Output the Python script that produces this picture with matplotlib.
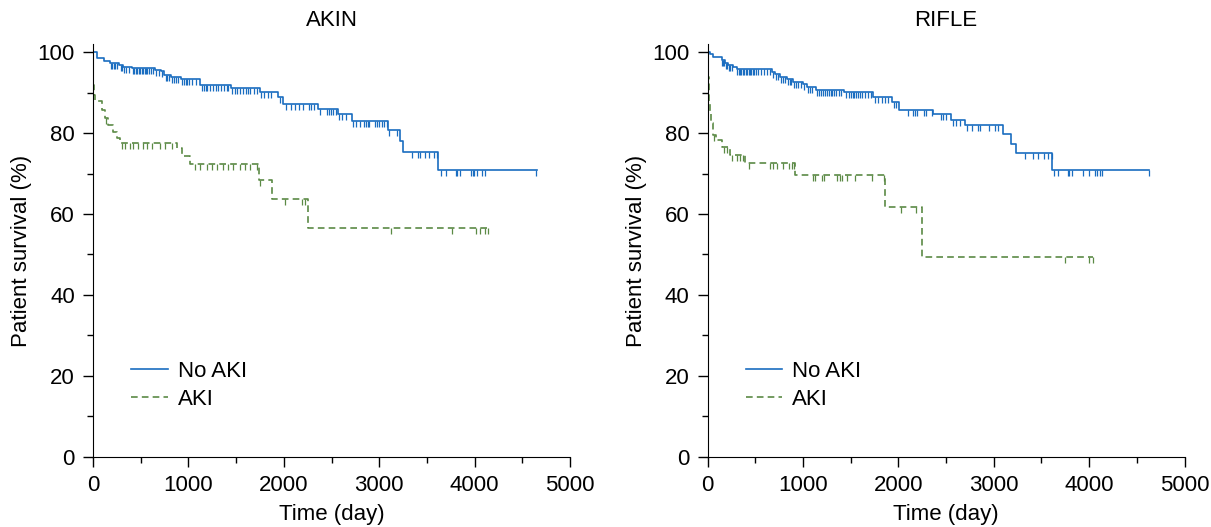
import numpy as np
import matplotlib
matplotlib.use("Agg")
import matplotlib.pyplot as plt
from matplotlib.ticker import MultipleLocator

plt.rcParams['font.family'] = ['Liberation Sans', 'DejaVu Sans']

blue = "#1a6dc0"
green = "#5b8a45"
fs = 16

# ---- AKIN panel ----
akin_noaki_t = [0, 45, 115, 178, 276, 318, 406, 650, 710, 744, 814, 919, 1122, 1443, 1750,
                1939, 1995, 2362, 2565, 2711, 3089, 3218, 3246, 3620]
akin_noaki_s = [100, 98.7, 97.9, 97.4, 96.9, 96.4, 96.0, 95.7, 95.4, 94.4, 93.9, 93.4, 91.9, 91.1, 90.3,
                89.0, 87.2, 86.0, 84.8, 82.9, 80.8, 78.0, 75.3, 70.8]
akin_noaki_end = 4651
akin_noaki_cens = [185, 200, 215, 232, 250, 290, 305, 330, 350, 375, 420, 435, 450, 465, 480, 495,
                   510, 525, 540, 555, 570, 590, 610, 630, 660, 690, 725, 760, 780, 800, 830, 850,
                   870, 890, 930, 950, 970, 990, 1010, 1040, 1080, 1140, 1160, 1180, 1200, 1230,
                   1260, 1290, 1310, 1340, 1370, 1400, 1420, 1460, 1490, 1510, 1540, 1570, 1600,
                   1620, 1650, 1690, 1720, 1760, 1790, 1830, 1870, 1960, 2020, 2080, 2120, 2160,
                   2200, 2260, 2290, 2320, 2380, 2456, 2477, 2495, 2519, 2547, 2579, 2613, 2649,
                   2722, 2757, 2799, 2844, 2858, 2879, 2896, 2956, 2973, 3001, 3026, 3050, 3078,
                   3106, 3183, 3341, 3410, 3428, 3480, 3526, 3578, 3602, 3645, 3697, 3802, 3819,
                   3847, 3962, 3980, 3997, 4021, 4074, 4112, 4644]

akin_aki_t = [0, 4, 12, 21, 91, 126, 161, 213, 248, 283, 877, 930, 1017, 1740, 1873, 2250]
akin_aki_s = [100, 92.0, 89.5, 88.0, 85.7, 83.7, 82.0, 80.4, 78.7, 77.5, 76.3, 74.4, 72.5, 68.4, 63.6, 56.5]
akin_aki_end = 4144
akin_aki_cens = [140, 300, 335, 388, 423, 475, 527, 563, 615, 702, 755, 825, 1069, 1122, 1192,
                 1244, 1297, 1366, 1419, 1471, 1541, 1593, 1646, 1716, 1750, 2013, 2187, 2222,
                 3120, 3760, 4011, 4057, 4109, 4144]

# ---- RIFLE panel ----
rifle_noaki_t = [0, 24, 59, 147, 182, 216, 269, 304, 672, 706, 759, 829, 899, 1004, 1039, 1136,
                 1430, 1738, 1930, 2011, 2367, 2550, 2700, 3102, 3183, 3235, 3616]
rifle_noaki_s = [100, 99.6, 98.8, 98.1, 97.4, 96.9, 96.3, 95.9, 95.2, 94.6, 93.8, 93.3, 92.7, 92.1,
                 91.5, 90.7, 90.3, 88.9, 87.8, 85.7, 84.7, 83.3, 82.0, 79.8, 77.2, 75.0, 70.9]
rifle_noaki_end = 4623
rifle_noaki_cens = [155, 165, 175, 190, 200, 225, 240, 255, 310, 325, 340, 355, 370, 385, 400,
                    415, 430, 445, 460, 475, 490, 510, 530, 560, 590, 620, 650, 690, 720, 740,
                    770, 790, 810, 840, 860, 880, 910, 930, 950, 980, 1015, 1050, 1070, 1100,
                    1150, 1170, 1190, 1210, 1230, 1250, 1270, 1290, 1310, 1330, 1350, 1380,
                    1400, 1450, 1480, 1500, 1520, 1540, 1560, 1580, 1600, 1620, 1650, 1680,
                    1710, 1760, 1790, 1830, 1860, 1890, 1950, 1980, 2105, 2158, 2175, 2193,
                    2270, 2291, 2351, 2445, 2473, 2501, 2571, 2606, 2648, 2718, 2770, 2840,
                    2858, 2955, 3015, 3050, 3330, 3410, 3463, 3529, 3574, 3609, 3634, 3679,
                    3777, 3794, 3819, 3935, 3994, 4064, 4088, 4117, 4134, 4623]

rifle_aki_t = [0, 3, 8, 14, 20, 28, 38, 55, 94, 147, 234, 391, 916, 1860, 2245]
rifle_aki_s = [100, 97, 94, 91, 88, 85, 82.5, 79.6, 78.4, 76.5, 74.6, 72.7, 69.6, 61.8, 49.5]
rifle_aki_end = 4040
rifle_aki_cens = [70, 171, 206, 252, 304, 339, 367, 437, 654, 682, 724, 793, 856, 881, 905,
                  1108, 1126, 1196, 1220, 1360, 1388, 1406, 1458, 1546, 1721, 1850, 2025, 2186,
                  3750, 4004, 4040]

panels = [
    ("AKIN", akin_noaki_t, akin_noaki_s, akin_noaki_end, akin_noaki_cens,
     akin_aki_t, akin_aki_s, akin_aki_end, akin_aki_cens),
    ("RIFLE", rifle_noaki_t, rifle_noaki_s, rifle_noaki_end, rifle_noaki_cens,
     rifle_aki_t, rifle_aki_s, rifle_aki_end, rifle_aki_cens),
]

tick_down = [(0, 0), (0, -1)]


def km_curve(ax, t, s, end, cens, color, ls, label):
    tt = np.append(t, end)
    ss = np.append(s, s[-1])
    ax.step(tt, ss, where='post', color=color, lw=1.2, ls=ls, label=label)
    idx = np.searchsorted(t, cens, side='right') - 1
    cy = np.array(s)[idx]
    ax.plot(cens, cy, ls='none', marker=tick_down, markersize=9,
            markeredgewidth=0.9, color=color)


fig = plt.figure(figsize=(12.11, 5.27), dpi=100)
lefts = [93 / 1211, 707.5 / 1211]
for (title, t1, s1, e1, c1, t2, s2, e2, c2), left in zip(panels, lefts):
    ax = fig.add_axes([left, 1 - 456.7 / 527, 477 / 1211, (456.7 - 44.2) / 527])
    km_curve(ax, t1, s1, e1, c1, blue, '-', 'No AKI')
    km_curve(ax, t2, s2, e2, c2, green, (0, (4, 2.5)), 'AKI')
    ax.set_xlim(0, 5000)
    ax.set_ylim(0, 102)
    ax.spines['top'].set_visible(False)
    ax.spines['right'].set_visible(False)
    ax.spines['left'].set_bounds(0, 102)
    ax.xaxis.set_major_locator(MultipleLocator(1000))
    ax.xaxis.set_minor_locator(MultipleLocator(500))
    ax.yaxis.set_major_locator(MultipleLocator(20))
    ax.yaxis.set_minor_locator(MultipleLocator(10))
    ax.tick_params(which='major', direction='out', length=7, width=1, labelsize=fs, pad=6)
    ax.tick_params(which='minor', direction='out', length=4.5, width=1)
    ax.set_title(title, fontsize=fs, pad=13)
    ax.set_xlabel("Time (day)", fontsize=fs, labelpad=6)
    ax.set_ylabel("Patient survival (%)", fontsize=fs, labelpad=4)
    ax.legend(loc='upper left', bbox_to_anchor=(0.08, 0.233), frameon=False,
              fontsize=fs, handlelength=1.65, handletextpad=0.45, borderpad=0,
              borderaxespad=0, labelspacing=0.34)

fig.savefig("out.png", dpi=100)
